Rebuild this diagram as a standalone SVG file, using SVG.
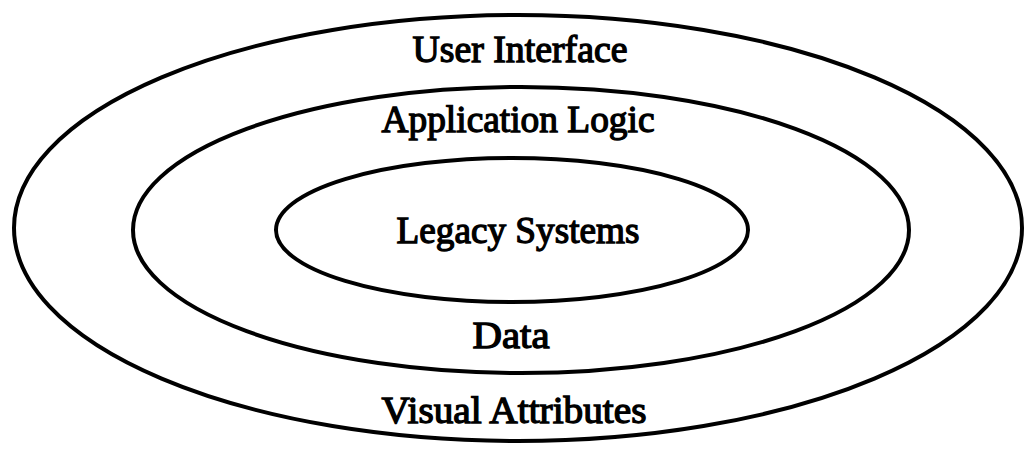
<svg xmlns="http://www.w3.org/2000/svg" width="1024" height="453" viewBox="0 0 1024 453">
<style>
.ring{fill:none;stroke:#000;stroke-width:4}
.lbl{font-family:"Liberation Serif","Times New Roman",serif;font-size:37px;fill:#000;stroke:#000;stroke-width:1.3;text-anchor:middle}
</style>
<rect width="1024" height="453" fill="#fff"/>
<g id="outer">
<ellipse class="ring" cx="518" cy="228" rx="504" ry="213"/>
<text class="lbl" x="520" y="62" textLength="215" lengthAdjust="spacingAndGlyphs">User Interface</text>
<text class="lbl" x="514" y="423" textLength="265" lengthAdjust="spacingAndGlyphs">Visual Attributes</text>
</g>
<g id="middle">
<ellipse class="ring" cx="521" cy="230" rx="388" ry="143"/>
<text class="lbl" x="518" y="132" textLength="273" lengthAdjust="spacingAndGlyphs">Application Logic</text>
<text class="lbl" x="511" y="348" textLength="77" lengthAdjust="spacingAndGlyphs">Data</text>
</g>
<g id="inner">
<ellipse class="ring" cx="512" cy="230" rx="236" ry="72"/>
<text class="lbl" x="518" y="243" textLength="243" lengthAdjust="spacingAndGlyphs">Legacy Systems</text>
</g>
<g id="connectors"></g>
</svg>
